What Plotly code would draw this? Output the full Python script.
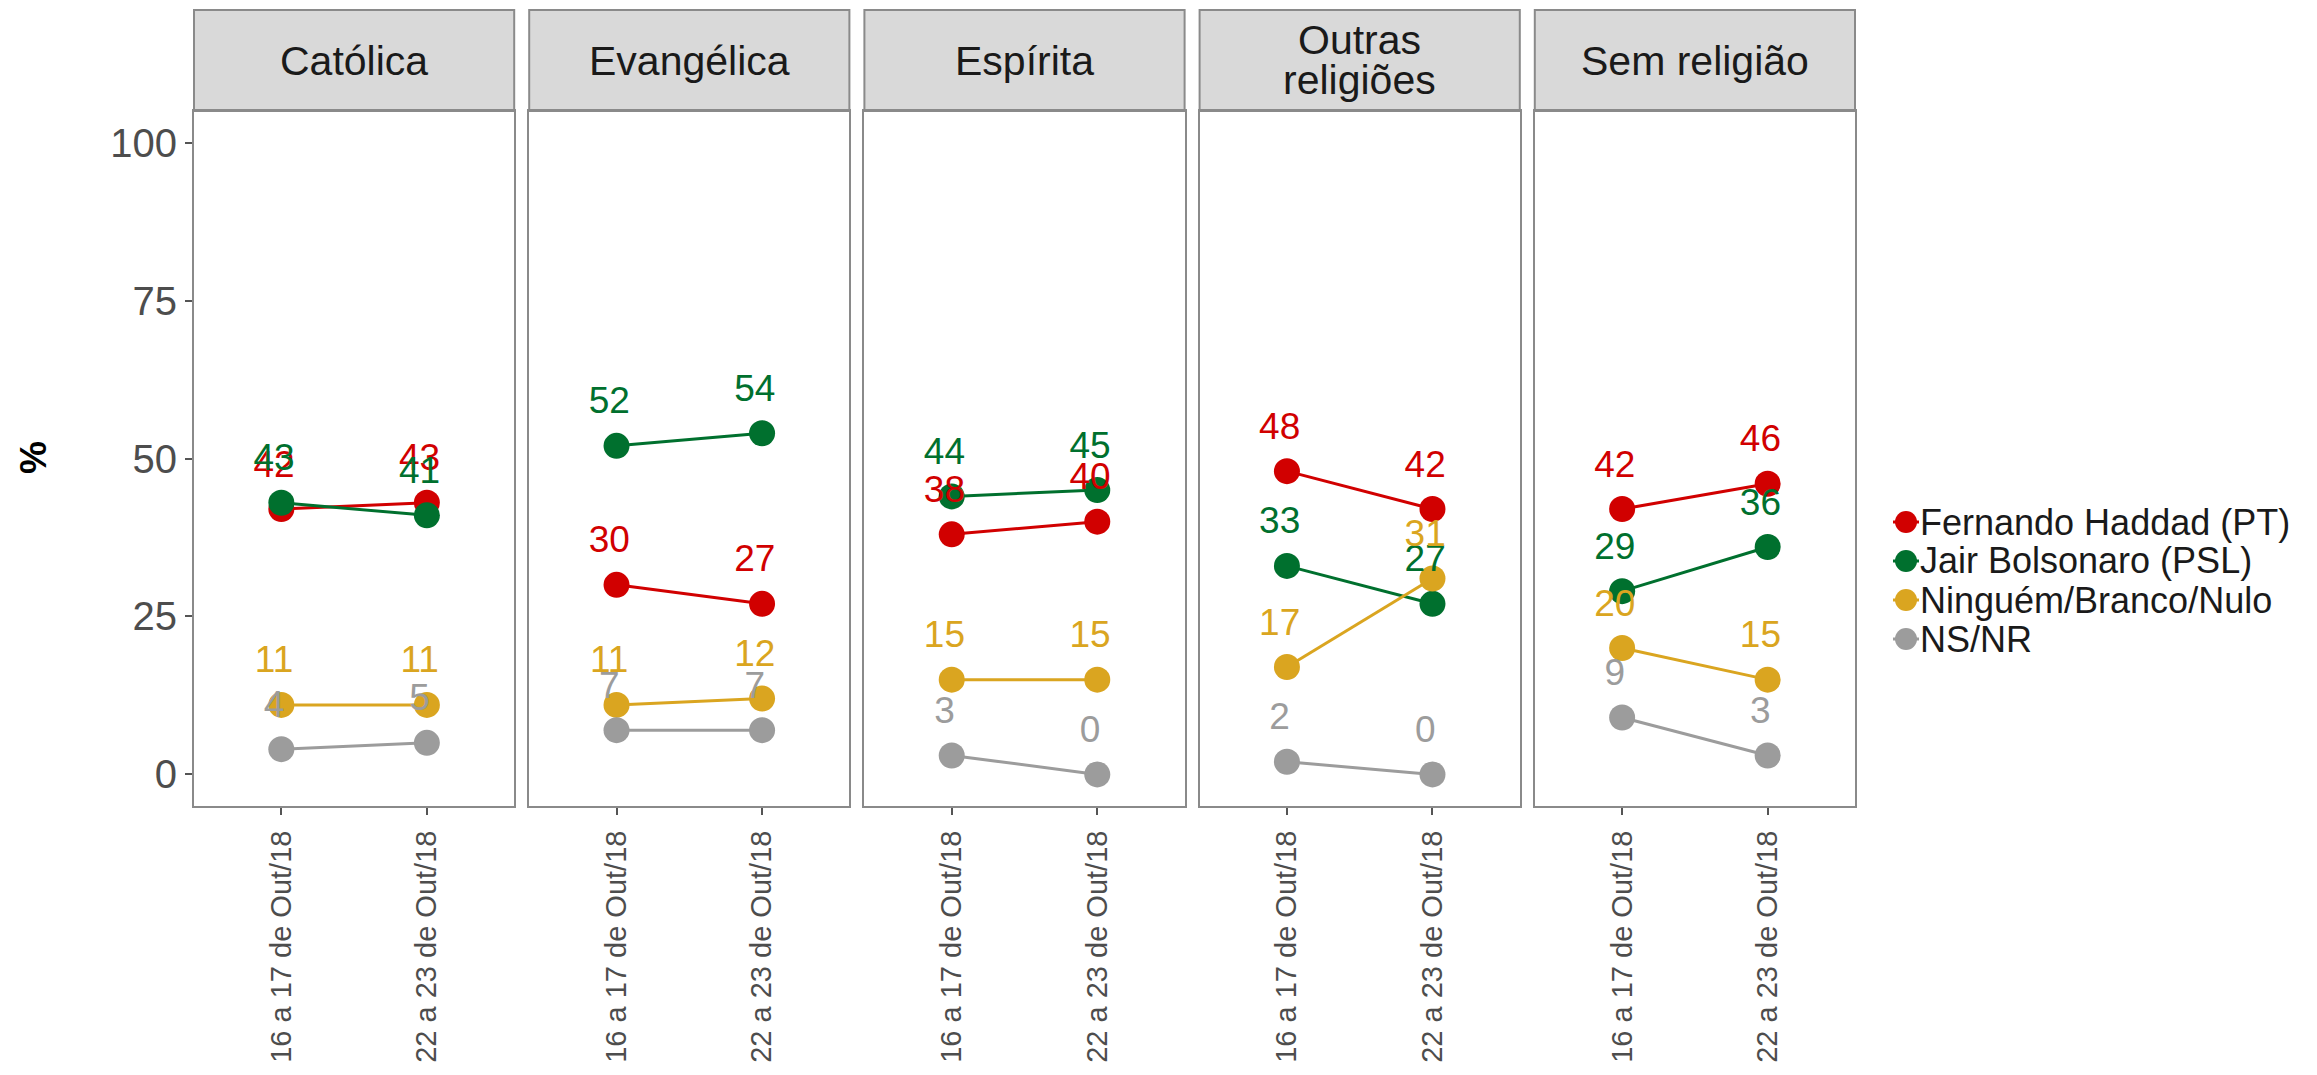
import plotly.graph_objects as go

# { data
periodos = ["16 a 17 de Out/18", "22 a 23 de Out/18"]
religioes = ["Católica", "Evangélica", "Espírita", "Outras<br>religiões", "Sem religião"]
series = ["Fernando Haddad (PT)", "Jair Bolsonaro (PSL)", "Ninguém/Branco/Nulo", "NS/NR"]

haddad = [[42, 43], [30, 27], [38, 40], [48, 42], [42, 46]]
bolsonaro = [[43, 41], [52, 54], [44, 45], [33, 27], [29, 36]]
ninguem = [[11, 11], [11, 12], [15, 15], [17, 31], [20, 15]]
nsnr = [[4, 5], [7, 7], [3, 0], [2, 0], [9, 3]]
# }

valores = [haddad, bolsonaro, ninguem, nsnr]
cores = ["#D10000", "#00702E", "#DAA520", "#9C9C9C"]

FONTE = "Liberation Sans, Arial, sans-serif"
W, H = 2317, 1075
OFF = 8                      # page body margin
FW, FH = W, H


def px(x):  # page pixel -> paper x
    return (x - OFF) / FW


def py(y):  # page pixel -> paper y
    return 1 - (y - OFF) / FH


# { panel geometry (page pixels)
esq, dir_ = 194, 1855
gap = 15
larg = (dir_ - esq - 4 * gap) / 5
topo, base, strip_topo = 111, 806, 10
# }

fig = go.Figure()

# lines + points first, then text labels on top
for p in range(5):
    ax = "" if p == 0 else str(p + 1)
    for s in range(4):
        fig.add_trace(go.Scatter(x=list(range(len(periodos))),
                                 y=valores[s][p],
                                 mode='lines+markers',
                                 line=dict(color=cores[s], width=3),
                                 marker=dict(color=cores[s], size=26),
                                 name=series[s],
                                 showlegend=False,
                                 xaxis='x' + ax, yaxis='y' + ax))
for p in range(5):
    ax = "" if p == 0 else str(p + 1)
    for s in range(4):
        fig.add_trace(go.Scatter(x=[i - 0.05 for i in range(len(periodos))],
                                 y=[v + 6.6 for v in valores[s][p]],
                                 mode='text',
                                 text=[str(v) for v in valores[s][p]],
                                 textfont=dict(color=cores[s], size=37, family=FONTE),
                                 showlegend=False, hoverinfo='skip',
                                 xaxis='x' + ax, yaxis='y' + ax))

# { axes, strips
shapes = []
annotations = []
for p in range(5):
    x0 = esq + p * (larg + gap)
    x1 = x0 + larg
    ax = "" if p == 0 else str(p + 1)
    fig.layout['xaxis' + ax] = dict(domain=[px(x0), px(x1)], range=[-0.6, 1.6],
                                    tickvals=list(range(len(periodos))), ticktext=periodos,
                                    tickangle=-90, ticks='outside', ticklen=7, tickwidth=1.5,
                                    tickcolor='#555555', ticklabelstandoff=4,
                                    tickfont=dict(size=29, color='#4D4D4D', family=FONTE),
                                    showgrid=False, zeroline=False,
                                    showline=True, mirror=True, linecolor='#8A8A8A', linewidth=2,
                                    anchor='y' + ax)
    fig.layout['yaxis' + ax] = dict(domain=[py(base), py(topo)], range=[-5, 105],
                                    tickvals=[0, 25, 50, 75, 100],
                                    showticklabels=(p == 0),
                                    ticks='outside' if p == 0 else '', ticklen=7, tickwidth=1.5,
                                    tickcolor='#555555',
                                    tickfont=dict(size=40, color='#4D4D4D', family=FONTE),
                                    showgrid=False, zeroline=False,
                                    showline=True, mirror=True, linecolor='#8A8A8A', linewidth=2,
                                    anchor='x' + ax)
    shapes.append(dict(type='rect', xref='paper', yref='paper',
                       x0=px(x0), x1=px(x1), y0=py(topo), y1=py(strip_topo),
                       fillcolor='#D9D9D9', line=dict(color='#8A8A8A', width=2),
                       layer='below'))
    linhas = religioes[p].split("<br>")
    meio = (topo + strip_topo) / 2
    for k, linha in enumerate(linhas):
        yk = meio + (k - (len(linhas) - 1) / 2) * 40
        annotations.append(dict(xref='paper', yref='paper',
                                x=px((x0 + x1) / 2), y=py(yk),
                                xanchor='center', yanchor='middle',
                                text=linha, showarrow=False,
                                font=dict(size=41, color='#1A1A1A', family=FONTE)))
# }

# { y title
annotations.append(dict(xref='paper', yref='paper', x=px(33), y=py(458),
                        xanchor='center', yanchor='middle',
                        text='<b>%</b>', showarrow=False, textangle=-90,
                        font=dict(size=37, color='black', family=FONTE)))
# }

# { legend drawn by hand (tight rows like the original)
leg_x, leg_y0, leg_dy = 1906, 522, 39
for s in range(4):
    yc = leg_y0 + s * leg_dy
    shapes.append(dict(type='line', xref='paper', yref='paper',
                       x0=px(leg_x - 13), x1=px(leg_x + 13), y0=py(yc), y1=py(yc),
                       line=dict(color=cores[s], width=3)))
    shapes.append(dict(type='circle', xref='paper', yref='paper',
                       x0=px(leg_x - 11), x1=px(leg_x + 11), y0=py(yc + 11), y1=py(yc - 11),
                       fillcolor=cores[s], line=dict(color=cores[s], width=0)))
    annotations.append(dict(xref='paper', yref='paper', x=px(leg_x + 12), y=py(yc),
                            xanchor='left', yanchor='middle',
                            text=series[s], showarrow=False,
                            font=dict(size=36, color='#1A1A1A', family=FONTE)))
# }

fig.update_layout(width=FW, height=FH,
                  margin=dict(l=0, r=0, t=0, b=0),
                  paper_bgcolor='white', plot_bgcolor='white',
                  shapes=shapes, annotations=annotations,
                  font=dict(family=FONTE),
                  showlegend=False)

fig.write_html("out.html")
